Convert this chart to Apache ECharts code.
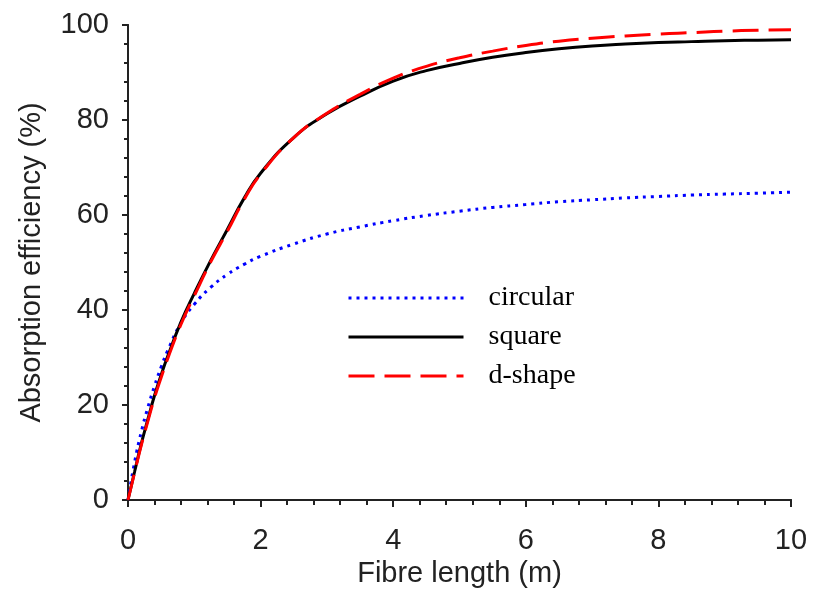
<!DOCTYPE html>
<html>
<head>
<meta charset="utf-8">
<style>
  html, body { margin: 0; padding: 0; background: #fff; }
  #chart { width: 813px; height: 591px; }
</style>
<script src="https://cdn.jsdelivr.net/npm/echarts@6/dist/echarts.min.js"></script>
</head>
<body>
<div id="chart"></div>
<script>
// Fibre length (m)
const fibreLength = [0, 0.1, 0.2, 0.3, 0.4, 0.5, 0.6, 0.8, 1, 1.25, 1.5, 1.75, 2, 2.5, 3, 3.5, 4, 4.5, 5, 5.5, 6, 6.5, 7, 7.5, 8, 8.5, 9, 9.5, 10];

// Absorption efficiency (%) for each fibre cross-section
const circular = [0, 8, 14.3, 19.5, 24, 28, 31.5, 37.3, 41.2, 44.8, 47.5, 49.6, 51.3, 53.9, 56, 57.5, 58.8, 59.9, 60.8, 61.6, 62.2, 62.8, 63.2, 63.6, 63.9, 64.2, 64.4, 64.6, 64.8];
const square   = [0, 6, 11.8, 17, 22, 26.3, 30.3, 37.5, 43.5, 50.5, 57, 63.5, 68.8, 76.3, 81.3, 85, 88.2, 90.4, 91.9, 93.2, 94.2, 95.0, 95.6, 96, 96.3, 96.5, 96.7, 96.8, 96.9];
const dShape   = [0, 5.8, 11.5, 16.6, 21.5, 25.8, 29.8, 37, 43, 50.2, 56.6, 63.2, 68.6, 76.3, 81.4, 85.4, 88.8, 91.3, 93.1, 94.5, 95.7, 96.6, 97.2, 97.7, 98.1, 98.4, 98.7, 98.9, 99.0];

const seriesNames = ['circular', 'square', 'd-shape'];

function pairs(ys) {
  return fibreLength.map((x, i) => [x, ys[i]]);
}

const axisColor = '#222';
const labelFont = { fontFamily: 'Liberation Sans, Arial, sans-serif', fontSize: 29, color: '#222' };

const chart = echarts.init(document.getElementById('chart'), null, { renderer: 'canvas' });

chart.setOption({
  backgroundColor: '#fff',
  animation: false,
  grid: { left: 128, right: 22, top: 25, bottom: 91, containLabel: false, outerBoundsMode: 'none' },
  legend: {
    orient: 'vertical',
    left: 347,
    top: 284,
    padding: 0,
    itemWidth: 115,
    itemHeight: 14,
    itemGap: 11,
    data: seriesNames,
    itemStyle: { color: 'rgba(0,0,0,0)', borderWidth: 0, opacity: 0 },
    lineStyle: { width: 3 },
    textStyle: {
      fontFamily: 'Liberation Serif, Times New Roman, serif',
      fontSize: 28,
      lineHeight: 28,
      color: '#000',
      padding: [0, 0, 0, 20]
    }
  },
  xAxis: [
    {
      type: 'value',
      min: 0, max: 10, interval: 2,
      name: 'Fibre length (m)',
      nameLocation: 'middle',
      nameGap: 50,
      nameTextStyle: labelFont,
      axisLine: { show: true, lineStyle: { color: axisColor, width: 2 } },
      axisTick: { show: true, inside: false, length: 7, lineStyle: { color: axisColor, width: 2 } },
      minorTick: { show: true, splitNumber: 5, length: 5, lineStyle: { color: axisColor, width: 2 } },
      axisLabel: Object.assign({ margin: 26 }, labelFont),
      splitLine: { show: false }
    },
    {
      type: 'value',
      position: 'top',
      min: 0, max: 10, interval: 2,
      axisLine: { show: true, lineStyle: { color: axisColor, width: 2 } },
      axisTick: { show: true, inside: true, length: 4, lineStyle: { color: axisColor, width: 2 } },
      minorTick: { show: true, splitNumber: 5, length: 3, lineStyle: { color: axisColor, width: 2 } },
      axisLabel: { show: false },
      splitLine: { show: false }
    }
  ],
  yAxis: [
    {
      type: 'value',
      min: 0, max: 100, interval: 20,
      name: 'Absorption efficiency (%)',
      nameLocation: 'middle',
      nameGap: 82,
      nameTextStyle: labelFont,
      axisLine: { show: true, lineStyle: { color: axisColor, width: 2 } },
      axisTick: { show: true, inside: false, length: 6, lineStyle: { color: axisColor, width: 2 } },
      minorTick: { show: true, splitNumber: 5, length: 4, lineStyle: { color: axisColor, width: 2 } },
      axisLabel: Object.assign({ margin: 19 }, labelFont),
      splitLine: { show: false }
    },
    {
      type: 'value',
      position: 'right',
      min: 0, max: 100, interval: 20,
      axisLine: { show: true, lineStyle: { color: axisColor, width: 2 } },
      axisTick: { show: true, inside: true, length: 4, lineStyle: { color: axisColor, width: 2 } },
      minorTick: { show: true, splitNumber: 5, length: 3, lineStyle: { color: axisColor, width: 2 } },
      axisLabel: { show: false },
      splitLine: { show: false }
    }
  ],
  series: [
    {
      name: seriesNames[0],
      type: 'line',
      xAxisIndex: 0, yAxisIndex: 0,
      data: pairs(circular),
      smooth: true,
      showSymbol: false,
      symbol: 'none',
      z: 3,
      lineStyle: { color: '#0000ff', width: 3, type: [3, 5] },
      itemStyle: { color: '#0000ff' }
    },
    {
      name: seriesNames[1],
      type: 'line',
      xAxisIndex: 0, yAxisIndex: 0,
      data: pairs(square),
      smooth: true,
      showSymbol: false,
      symbol: 'none',
      z: 4,
      lineStyle: { color: '#000000', width: 3, type: 'solid' },
      itemStyle: { color: '#000000' }
    },
    {
      name: seriesNames[2],
      type: 'line',
      xAxisIndex: 0, yAxisIndex: 0,
      data: pairs(dShape),
      smooth: true,
      showSymbol: false,
      symbol: 'none',
      z: 5,
      lineStyle: { color: '#ff0000', width: 3, type: [26, 10] },
      itemStyle: { color: '#ff0000' }
    }
  ]
});
</script>
</body>
</html>
